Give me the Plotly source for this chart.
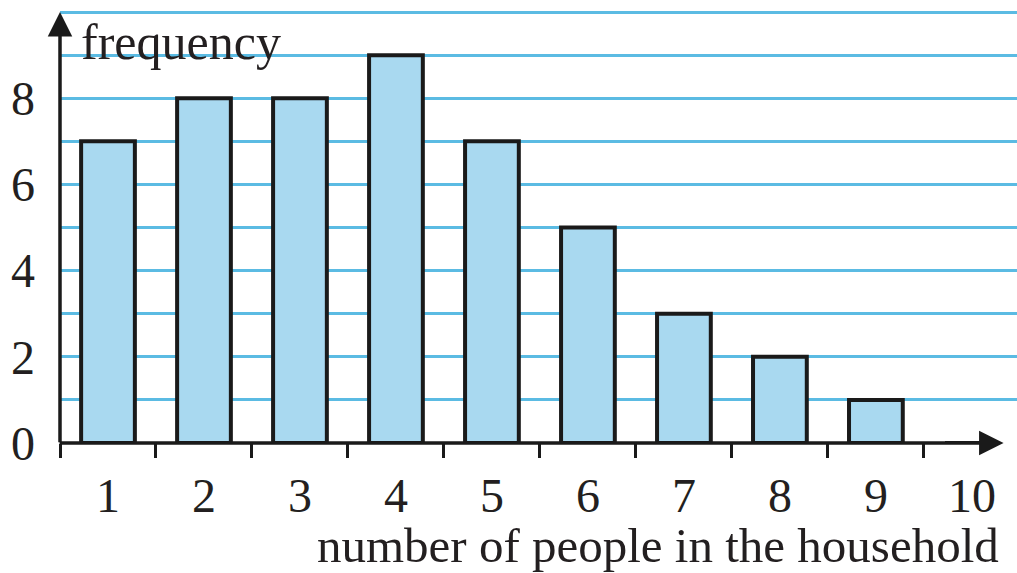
import plotly.graph_objects as go

people = [1, 2, 3, 4, 5, 6, 7, 8, 9, 10]
frequency = [7, 8, 8, 9, 7, 5, 3, 2, 1, 0]
x_tick_labels = ["1", "2", "3", "4", "5", "6", "7", "8", "9", "10"]
y_grid_values = [0, 1, 2, 3, 4, 5, 6, 7, 8, 9, 10]
y_tick_labels = ["0", "", "2", "", "4", "", "6", "", "8", "", ""]
boundaries = [0.5, 1.5, 2.5, 3.5, 4.5, 5.5, 6.5, 7.5, 8.5, 9.5]

FONT = "Liberation Serif, Times New Roman, serif"
TXT = "#231f20"

fig = go.Figure()
fig.add_trace(go.Bar(
    x=people, y=frequency, width=0.56,
    marker=dict(color="#a9d9f0", line=dict(color="#1a1a1a", width=4)),
    hoverinfo="skip",
))

# axes with arrows
fig.add_annotation(x=10.33, y=0, ax=0.48, ay=0, xref="x", yref="y", axref="x", ayref="y",
                   showarrow=True, arrowhead=2, arrowsize=1.4, arrowwidth=3.5,
                   arrowcolor="#1a1a1a", text="")
fig.add_annotation(x=0.5, y=10.0, ax=0.5, ay=-0.02, xref="x", yref="y", axref="x", ayref="y",
                   showarrow=True, arrowhead=2, arrowsize=1.4, arrowwidth=3.5,
                   arrowcolor="#1a1a1a", text="")

fig.add_annotation(text="frequency", x=0.7, y=9.3, xref="x", yref="y",
                   xanchor="left", yanchor="middle", showarrow=False,
                   font=dict(family=FONT, size=50, color=TXT))
fig.add_annotation(text="number of people in the household", x=0.983, y=-0.232,
                   xref="paper", yref="paper", xanchor="right", yanchor="middle",
                   showarrow=False, font=dict(family=FONT, size=49, color=TXT))

fig.update_layout(
    width=1017, height=573,
    margin=dict(l=60, r=0, t=0, b=130, autoexpand=False),
    paper_bgcolor="white", plot_bgcolor="white",
    showlegend=False,
    font=dict(family=FONT, color=TXT),
    xaxis=dict(
        range=[0.5, 10.47], tickvals=people, ticktext=x_tick_labels,
        ticks="", showgrid=False, zeroline=False, showline=False,
        automargin=False,
        tickfont=dict(family=FONT, size=48, color=TXT),
        ticklabelstandoff=20,
        minor=dict(tickvals=boundaries, ticks="outside", ticklen=14,
                   tickwidth=2.5, tickcolor="#1a1a1a", showgrid=False),
    ),
    yaxis=dict(
        range=[0, 10.28], tickvals=y_grid_values, ticktext=y_tick_labels,
        ticks="", showgrid=True, gridcolor="#5bbbe3", gridwidth=2.6,
        zeroline=False, showline=False, automargin=False,
        tickfont=dict(family=FONT, size=48, color=TXT),
        ticklabelstandoff=24,
    ),
)

fig.write_html("out.html", config={"displayModeBar": False},
               post_script="document.body.style.margin='0';document.body.style.overflow='hidden';")
